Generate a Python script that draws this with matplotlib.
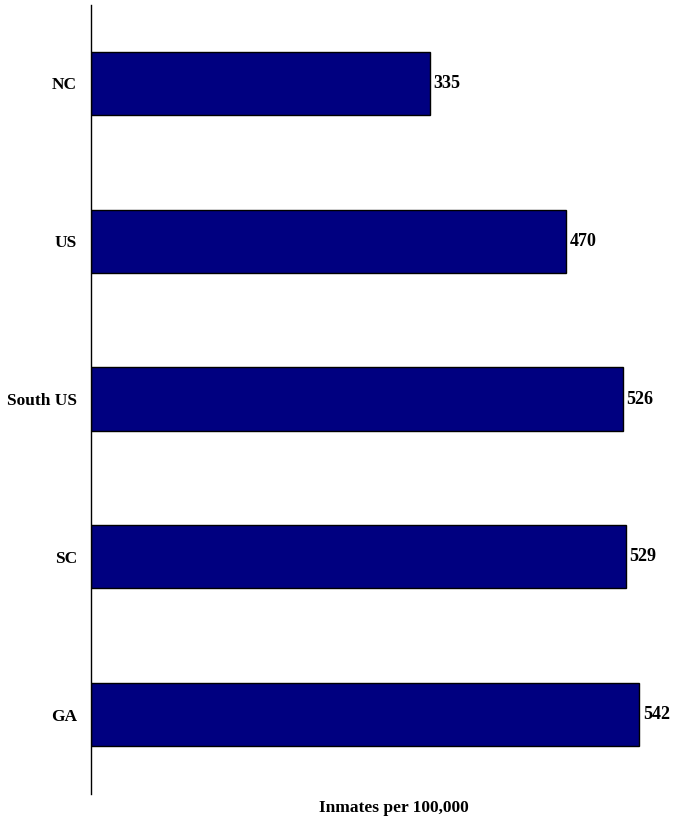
import matplotlib
matplotlib.use("Agg")
import matplotlib.pyplot as plt

# data
regions = ['NC', 'US', 'South US', 'SC', 'GA']
inmates = [335, 470, 526, 529, 542]

plt.rcParams['font.family'] = ['Liberation Serif', 'DejaVu Serif']
plt.rcParams['font.weight'] = 'bold'

fig = plt.figure(figsize=(6.75, 8.24), dpi=100)
ax = fig.add_axes([91/675, 1-793.5/824, 576/675, 789/824])

pos = list(range(len(regions)))
ax.barh(pos, inmates, height=0.4, color='#000080', edgecolor='black', linewidth=1)

for p, v in zip(pos, inmates):
    ax.text(v + 4, p, str(v), va='center', ha='left', fontsize=13, fontweight='bold')

ax.set_xlim(0, 570)
ax.set_ylim(4.5, -0.5)
ax.set_yticks(pos)
ax.set_yticklabels(regions, fontsize=12.5, fontweight='bold')
ax.tick_params(axis='y', length=0, pad=10)
ax.set_xticks([])

for s in ['top', 'right', 'bottom']:
    ax.spines[s].set_visible(False)
ax.spines['left'].set_linewidth(1)

fig.text(394/675, 1-808/824, 'Inmates per 100,000', ha='center', va='center',
         fontsize=12.5, fontweight='bold')

fig.savefig('out.png', dpi=100)
